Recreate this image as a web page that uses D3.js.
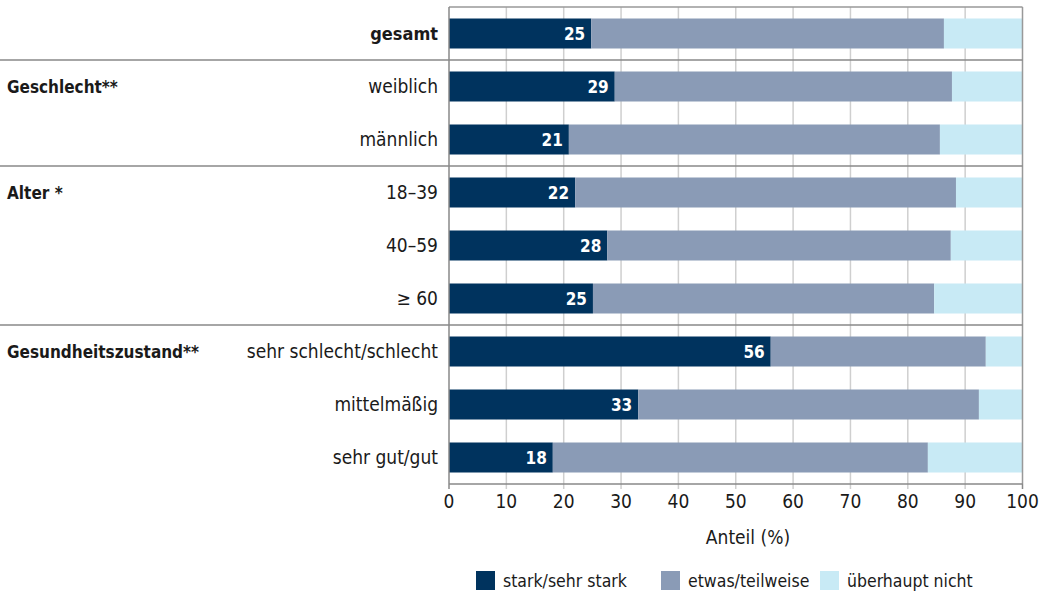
<!DOCTYPE html>
<html>
<head>
<meta charset="utf-8">
<script src="https://cdn.jsdelivr.net/npm/d3@7"></script>
<style>
  body { margin: 0; background: #fff; }
  svg { display: block; font-family: "Liberation Sans Narrow", "DejaVu Sans Condensed", sans-serif; }
</style>
</head>
<body>
<div id="chart"></div>
<script>
// Data
const categories = ['gesamt', 'weiblich', 'männlich', '18–39', '40–59', '≥ 60',
  'sehr schlecht/schlecht', 'mittelmäßig', 'sehr gut/gut']
const stark = [24.8, 28.9, 20.9, 22.0, 27.6, 25.1, 56.1, 33.0, 18.1]
const etwas = [61.5, 58.8, 64.7, 66.4, 59.9, 59.5, 37.5, 59.4, 65.4]
const nicht = [13.7, 12.3, 14.4, 11.6, 12.5, 15.4, 6.4, 7.6, 16.5]
const seriesNames = ['stark/sehr stark', 'etwas/teilweise', 'überhaupt nicht']
const colors = ['#00335e', '#8a9bb6', '#c8eaf5']
// group headings: [label, first category index]
const groups = [['Geschlecht**', 1], ['Alter *', 3], ['Gesundheitszustand**', 6]]
const xTicks = [0, 10, 20, 30, 40, 50, 60, 70, 80, 90, 100]

const width = 1047
const height = 592
const plotLeft = 449
const plotRight = 1022.5
const plotTop = 7
const plotBottom = 484

const svg = d3.select('#chart')
  .append('svg')
  .attr('width', width)
  .attr('height', height)

const x = d3.scaleLinear().domain([0, 100]).range([plotLeft, plotRight])
const y = d3.scaleBand()
  .domain(categories)
  .range([plotTop, plotBottom])
  .paddingInner(0.434)
  .paddingOuter(0.217)

// Vertical grid lines
svg.append('g')
  .selectAll('line')
  .data(xTicks.slice(1, -1))
  .join('line')
  .attr('x1', d => x(d))
  .attr('x2', d => x(d))
  .attr('y1', plotTop)
  .attr('y2', plotBottom + 5)
  .attr('stroke', '#cfcfcf')
  .attr('stroke-width', 1.5)

// Stacked bars
const rows = categories.map((c, i) => ({ cat: c, vals: [stark[i], etwas[i], nicht[i]] }))
const stack = d3.stack().keys([0, 1, 2]).value((d, k) => d.vals[k])
const stacked = stack(rows)

svg.append('g')
  .selectAll('g')
  .data(stacked)
  .join('g')
  .attr('fill', (d, i) => colors[i])
  .selectAll('rect')
  .data(d => d)
  .join('rect')
  .attr('x', d => x(d[0]))
  .attr('width', d => x(d[1]) - x(d[0]))
  .attr('y', d => y(d.data.cat))
  .attr('height', y.bandwidth())

// Value labels in dark segment
svg.append('g')
  .selectAll('text')
  .data(rows)
  .join('text')
  .attr('x', d => x(d.vals[0]) - 6)
  .attr('y', d => y(d.cat) + y.bandwidth() / 2 + 6)
  .attr('text-anchor', 'end')
  .attr('fill', '#fff')
  .attr('font-size', '17px')
  .attr('font-weight', 600)
  .text(d => d3.format('.0f')(d.vals[0]))

// Frame: top, right, left axis, bottom
svg.append('line')
  .attr('x1', plotLeft).attr('x2', plotRight).attr('y1', plotTop).attr('y2', plotTop)
  .attr('stroke', '#999').attr('stroke-width', 1.5)
svg.append('line')
  .attr('x1', plotRight).attr('x2', plotRight).attr('y1', plotTop).attr('y2', plotBottom)
  .attr('stroke', '#999').attr('stroke-width', 1.5)
svg.append('line')
  .attr('x1', plotLeft).attr('x2', plotRight).attr('y1', plotBottom).attr('y2', plotBottom)
  .attr('stroke', '#888').attr('stroke-width', 1.5)
svg.append('line')
  .attr('x1', plotLeft).attr('x2', plotLeft).attr('y1', plotTop).attr('y2', plotBottom + 5)
  .attr('stroke', '#888').attr('stroke-width', 1.5)
svg.append('line')
  .attr('x1', plotRight).attr('x2', plotRight).attr('y1', plotBottom).attr('y2', plotBottom + 5)
  .attr('stroke', '#888').attr('stroke-width', 1.5)

// Group separators (midway between rows)
const sepY = d => y(categories[d[1]]) - y.step() * y.paddingInner() / 2
svg.append('g')
  .selectAll('line')
  .data(groups)
  .join('line')
  .attr('x1', 0)
  .attr('x2', plotRight)
  .attr('y1', sepY)
  .attr('y2', sepY)
  .attr('stroke', '#888')
  .attr('stroke-width', 1.5)

// Category labels
svg.append('g')
  .selectAll('text')
  .data(categories)
  .join('text')
  .attr('x', plotLeft - 11)
  .attr('y', d => y(d) + y.bandwidth() / 2 + 6)
  .attr('text-anchor', 'end')
  .attr('fill', '#1a1a1a')
  .attr('font-size', (d, i) => i === 0 ? '18px' : '19px')
  .attr('font-weight', (d, i) => i === 0 ? 'bold' : 'normal')
  .text(d => d)

// Group headings
svg.append('g')
  .selectAll('text')
  .data(groups)
  .join('text')
  .attr('x', 7)
  .attr('y', d => y(categories[d[1]]) + y.bandwidth() / 2 + 6)
  .attr('fill', '#1a1a1a')
  .attr('font-size', '17px')
  .attr('font-weight', 'bold')
  .text(d => d[0])

// X tick labels
svg.append('g')
  .selectAll('text')
  .data(xTicks)
  .join('text')
  .attr('x', d => x(d))
  .attr('y', plotBottom + 24)
  .attr('text-anchor', 'middle')
  .attr('fill', '#1a1a1a')
  .attr('font-size', '19px')
  .text(d => d)

// Axis title
svg.append('text')
  .attr('x', 748)
  .attr('y', 544)
  .attr('text-anchor', 'middle')
  .attr('fill', '#1a1a1a')
  .attr('font-size', '19px')
  .text('Anteil (%)')

// Legend
const legendX = [476, 661, 820]
const legend = svg.append('g')
  .selectAll('g')
  .data(seriesNames)
  .join('g')
  .attr('transform', (d, i) => `translate(${legendX[i]}, 571)`)
legend.append('rect')
  .attr('width', 19)
  .attr('height', 19)
  .attr('fill', (d, i) => colors[i])
legend.append('text')
  .attr('x', 27)
  .attr('y', 16)
  .attr('fill', '#1a1a1a')
  .attr('font-size', '17.5px')
  .text(d => d)
</script>
</body>
</html>
